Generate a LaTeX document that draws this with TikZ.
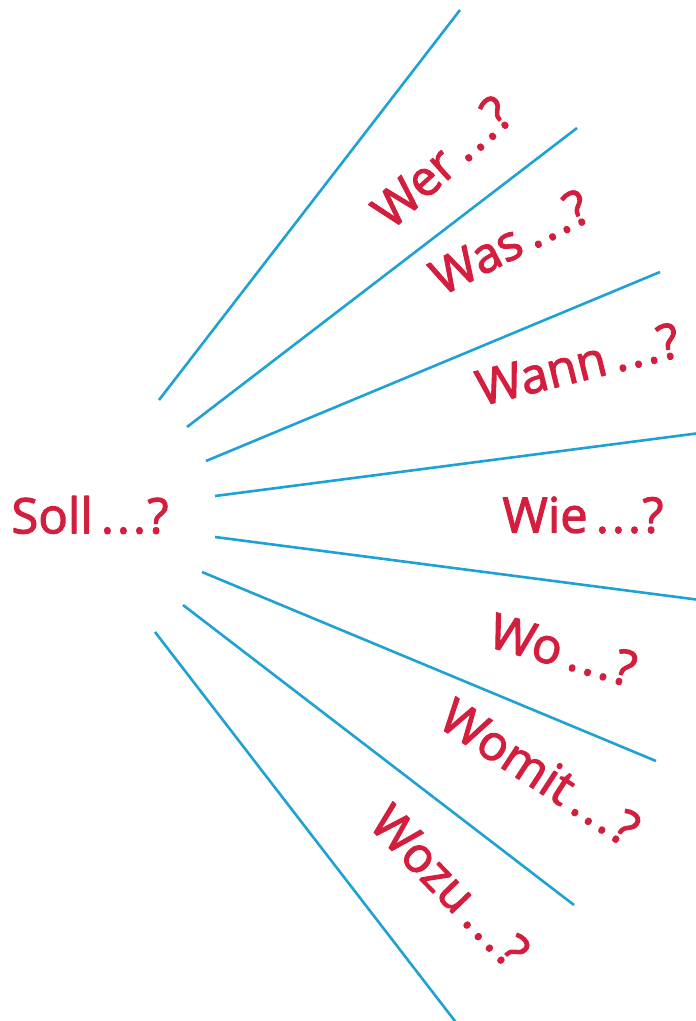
\documentclass[tikz,border=0pt]{standalone}
\usepackage{fontspec}
\setmainfont{Open Sans}
\definecolor{qred}{RGB}{211,30,62}
\definecolor{qblue}{RGB}{30,162,212}
\newcommand{\qdots}{\,.\kern3pt.\kern3pt.\kern1.5pt?}
\newcommand{\heavy}[1]{\special{pdf:literal direct 2 Tr 1.1 w 1 j}#1\special{pdf:literal direct 0 Tr}}
\begin{document}
\begin{tikzpicture}[x=1pt,y=-1pt,
  ray/.style={draw=qblue,line width=2.6pt},
  qtext/.style={text=qred,font=\fontsize{49}{53}\selectfont,inner sep=0pt}]
\useasboundingbox (0,0) rectangle (696,1021);
% rays
\coordinate (s1) at (159,400); \coordinate (e1) at (460,10);
\coordinate (s2) at (187,427); \coordinate (e2) at (577,128);
\coordinate (s3) at (206,461); \coordinate (e3) at (660,272);
\coordinate (s4) at (215,496); \coordinate (e4) at (700,433);
\coordinate (s5) at (215,537); \coordinate (e5) at (700,600);
\coordinate (s6) at (202,572); \coordinate (e6) at (656,761);
\coordinate (s7) at (183,605); \coordinate (e7) at (574,905);
\coordinate (s8) at (155,632); \coordinate (e8) at (458,1025);
\foreach \i in {1,...,8} \draw[ray] (s\i) -- (e\i);
% texts
\node[qtext] (soll) at (90,515) {\heavy{Soll\qdots}};
\node[qtext,rotate=42] (wer) at (442,162) {\heavy{Wer\qdots}};
\node[qtext,rotate=27] (was) at (510,242) {\heavy{Was\qdots}};
\node[qtext,rotate=14] (wann) at (578,364) {\heavy{Wann\qdots}};
\node[qtext] (wie) at (583,515) {\heavy{Wie\qdots}};
\node[qtext,rotate=-16] (wo) at (563,650) {\heavy{Wo\qdots}};
\node[qtext,rotate=-33] (womit) at (540,772) {\heavy{Womit\qdots}};
\node[qtext,rotate=-46] (wozu) at (450,886) {\heavy{Wozu\qdots}};
\end{tikzpicture}
\end{document}
